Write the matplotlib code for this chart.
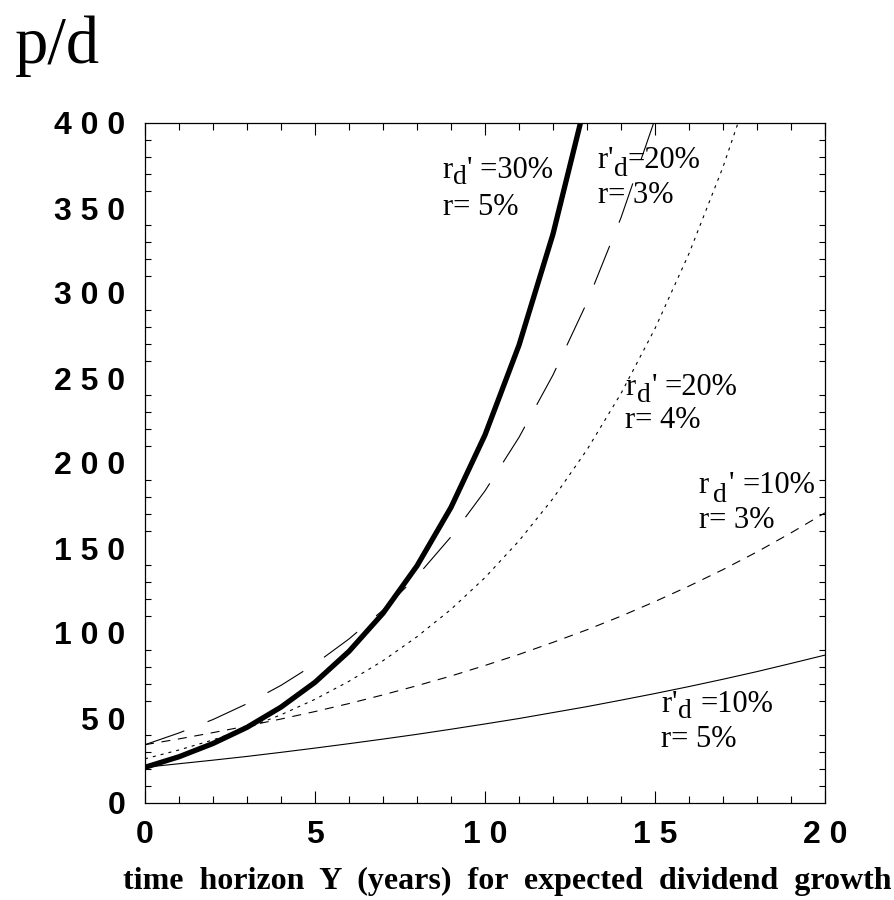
import matplotlib
matplotlib.use("Agg")
import matplotlib.pyplot as plt
from matplotlib.ticker import FixedLocator
from matplotlib.transforms import offset_copy

plt.rcParams['lines.scale_dashes'] = False

# ---- data ----
years = list(range(0, 21))

# r'_d = 30%, r = 5%  (thick solid)
pd_30_5 = [21.0, 27.2, 35.0, 44.5, 56.4, 71.0, 89.2, 111.6, 139.5, 173.9,
           216.5, 269.3, 334.7, 415.6]
# r'_d = 20%, r = 3%  (long dash)
pd_20_3 = [34.3, 41.2, 49.1, 58.4, 69.2, 81.8, 96.5, 113.5, 133.4, 156.6,
           183.6, 215.1, 251.8, 294.5, 344.3, 402.3]
# r'_d = 20%, r = 4%  (dotted)
pd_20_4 = [26.0, 31.2, 37.1, 44.0, 51.9, 61.0, 71.6, 83.7, 97.8, 113.9,
           132.6, 154.2, 179.1, 207.8, 240.9, 279.1, 323.2, 374.1, 432.8]
# r'_d = 10%, r = 3%  (dashed)
pd_10_3 = [34.3, 37.7, 41.4, 45.3, 49.4, 53.8, 58.5, 63.6, 69.0, 74.7,
           80.9, 87.4, 94.5, 101.9, 109.9, 118.5, 127.6, 137.3, 147.7, 158.9, 170.7]
# r'_d = 10%, r = 5%  (thin solid)
pd_10_5 = [21.0, 23.1, 25.2, 27.4, 29.8, 32.3, 34.9, 37.6, 40.4, 43.4,
           46.5, 49.7, 53.2, 56.7, 60.5, 64.4, 68.5, 72.8, 77.3, 82.1, 87.0]

xtick_vals = [0, 5, 10, 15, 20]
xtick_labels = ["0", "5", "1 0", "1 5", "2 0"]
ytick_vals = [0, 50, 100, 150, 200, 250, 300, 350, 400]
ytick_labels = ["0", "5 0", "1 0 0", "1 5 0", "2 0 0", "2 5 0", "3 0 0", "3 5 0", "4 0 0"]

# annotation pieces: (text, dx px, dy px) relative to anchor
label_line1 = [
    [("r", 0, 0), ("d", 10, -6), ("' =30%", 24, 0)],
    [("r", 0, 0), ("'", 10, 0), ("d", 16, -8), ("=20%", 30, 0)],
    [("r", 0, 0), ("d", 12, -7), ("'", 27, 0), ("=20%", 39, 0)],
    [("r", 0, 0), ("d", 14, -9), ("'", 30, 0), ("=10%", 44, 0)],
    [("r", 0, 0), ("'", 11, 0), ("d", 17, -6), ("=10%", 39, 0)],
]
label_line2 = ["r= 5%", "r= 3%", "r= 4%", "r= 3%", "r= 5%"]
label_x = [8.76, 13.32, 14.12, 16.29, 15.18]
label_y1 = [367.6, 373.5, 240.0, 182.4, 53.5]
label_y2 = [345.9, 352.9, 220.6, 161.8, 32.9]

# ---- figure ----
fig = plt.figure(figsize=(8.94, 9.0), dpi=100)
ax = fig.add_axes([145 / 894, 97 / 900, 680 / 894, 680 / 900])

ax.plot(years[:len(pd_10_5)], pd_10_5, color='black', lw=0.8)
ax.plot(years[:len(pd_10_3)], pd_10_3, color='black', lw=0.8, dashes=(6.5, 5.5))
ax.plot(years[:len(pd_20_4)], pd_20_4, color='black', lw=0.8, dashes=(2.2, 3.6))
ax.plot(years[:len(pd_20_3)], pd_20_3, color='black', lw=0.8, dashes=(30, 18))
ax.plot(years[:len(pd_30_5)], pd_30_5, color='black', lw=3.8, solid_joinstyle='miter')

ax.set_xlim(0, 20)
ax.set_ylim(0, 400)

ax.set_xticks(xtick_vals)
ax.set_xticklabels(xtick_labels)
ax.xaxis.set_minor_locator(FixedLocator([v for v in range(0, 21) if v % 5 != 0]))
ax.set_yticks(ytick_vals)
ax.set_yticklabels(ytick_labels)
ax.yaxis.set_minor_locator(FixedLocator([v for v in range(0, 401, 10) if v % 50 != 0]))

ax.tick_params(axis='x', which='major', direction='in', length=8.6, width=0.8,
               top=True, bottom=True, pad=12)
ax.tick_params(axis='x', which='minor', direction='in', length=5, width=0.8,
               top=True, bottom=True)
ax.tick_params(axis='y', which='major', direction='in', length=0, width=0.8,
               left=True, right=True, pad=14)
ax.tick_params(axis='y', which='minor', direction='in', length=4.5, width=0.8,
               left=True, right=True)

for lab in ax.get_xticklabels() + ax.get_yticklabels():
    lab.set_fontfamily('Liberation Sans')
    lab.set_fontweight('bold')
    lab.set_fontsize(23)

for s in ax.spines.values():
    s.set_linewidth(0.9)

FS = 22
for pieces, t2, x, y1, y2 in zip(label_line1, label_line2, label_x, label_y1, label_y2):
    for txt, dx, dy in pieces:
        tr = offset_copy(ax.transData, fig=fig, x=dx * 0.72, y=dy * 0.72, units='points')
        ax.text(x, y1, txt, fontsize=FS * (0.9 if txt == "d" else 1.0),
                family='Liberation Serif', ha='left', va='baseline', transform=tr)
    ax.text(x, y2, t2, fontsize=FS, family='Liberation Serif', ha='left', va='baseline')

fig.text(15 / 894, 1 - 63 / 900, "p/d", fontsize=48, family='Liberation Serif',
         ha='left', va='baseline')
fig.text(507 / 894, 1 - 889 / 900,
         "time  horizon  Y  (years)  for  expected  dividend  growth",
         fontsize=23, family='Liberation Serif', fontweight='bold',
         ha='center', va='baseline')

fig.savefig("out.png", dpi=100)
